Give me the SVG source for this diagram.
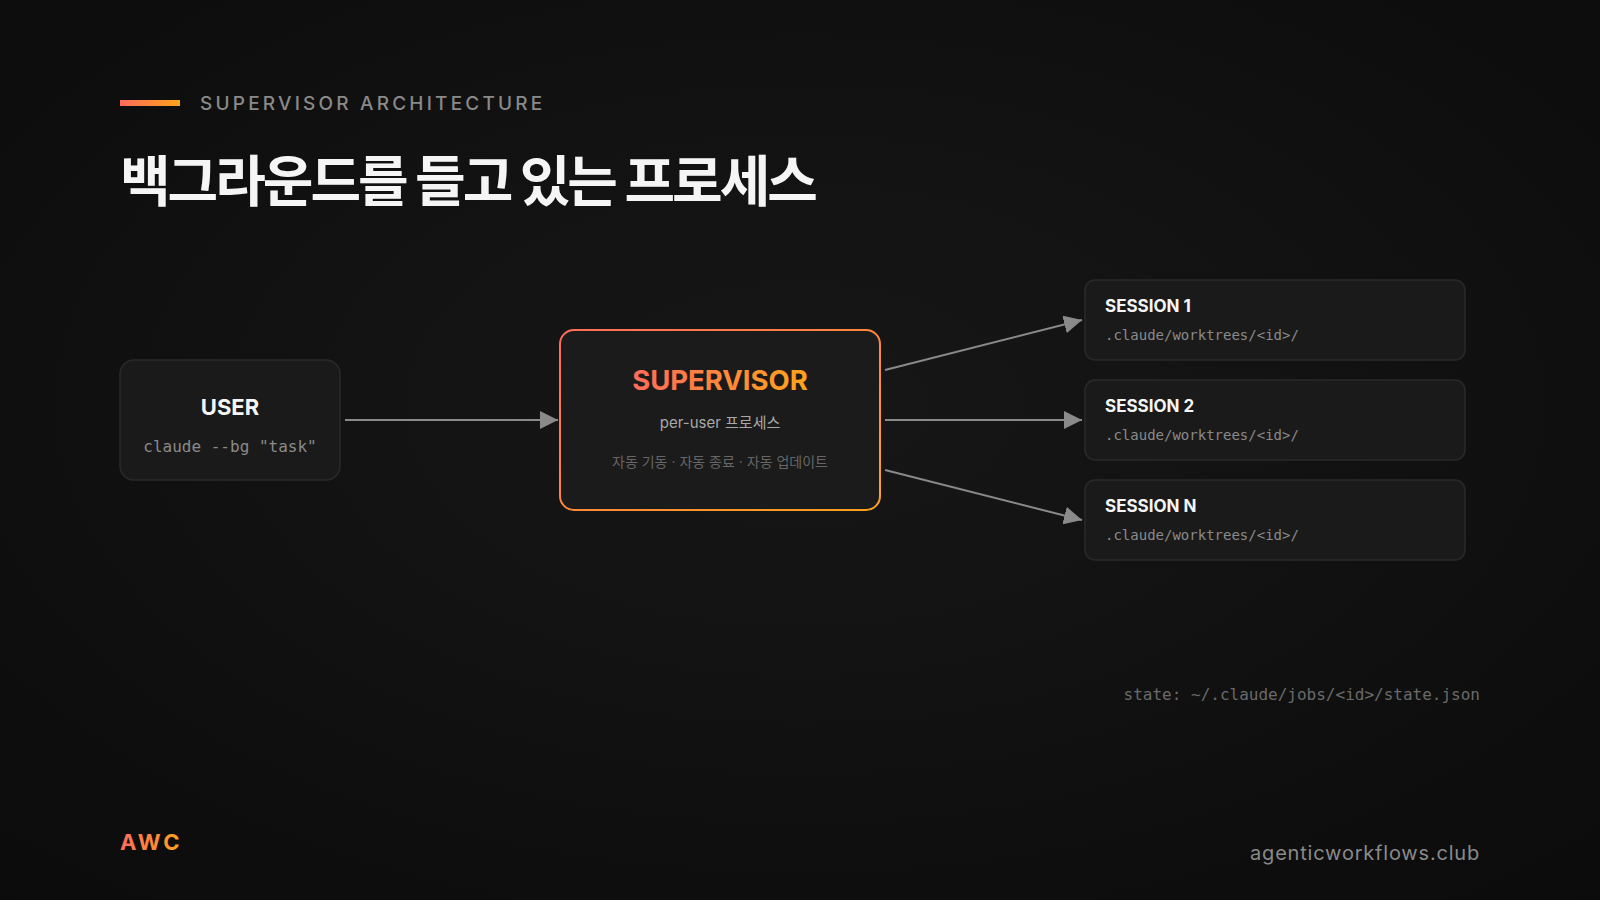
<svg xmlns="http://www.w3.org/2000/svg" width="1600" height="900" viewBox="0 0 1600 900">
  <defs>
    <radialGradient id="bg" cx="50%" cy="45%" r="75%">
      <stop offset="0" stop-color="#171717"/>
      <stop offset="1" stop-color="#0b0b0b"/>
    </radialGradient>
    <linearGradient id="accent" x1="0" y1="0" x2="1" y2="1">
      <stop offset="0" stop-color="#ff6b5b"/>
      <stop offset="1" stop-color="#ffa31a"/>
    </linearGradient>
    <linearGradient id="accentH" x1="0" y1="0" x2="1" y2="0">
      <stop offset="0" stop-color="#ff6b5b"/>
      <stop offset="1" stop-color="#ffa31a"/>
    </linearGradient>
    <marker id="arrowL" viewBox="0 0 10 10" refX="10" refY="5" markerWidth="18" markerHeight="18" markerUnits="userSpaceOnUse" orient="auto">
      <path d="M0,0 L10,5 L0,10 Z" fill="#8a8a8a"/>
    </marker>
  </defs>
  <style>
    .card { fill: #1a1a1a; stroke: #2a2a2a; stroke-width: 1.5; }
    .sans { font-family: Inter, "Noto Sans CJK KR", "Noto Sans", sans-serif; }
    .mono { font-family: "DejaVu Sans Mono", "Liberation Mono", monospace; }
    .node-title { font-family: Inter, "Noto Sans CJK KR", sans-serif; font-weight: 700; fill: #f5f5f5; }
    .path { font-family: "DejaVu Sans Mono", "Liberation Mono", monospace; font-size: 14px; fill: #8a8a8a; }
    .conn { stroke: #8a8a8a; stroke-width: 2; fill: none; }
  </style>

  <rect x="0" y="0" width="1600" height="900" fill="url(#bg)"/>

  <!-- header -->
  <rect x="120" y="100" width="60" height="6" fill="url(#accentH)"/>
  <text x="200" y="110" class="sans" font-size="19" font-weight="500" letter-spacing="3.2" fill="#8a8a8a">SUPERVISOR ARCHITECTURE</text>
  <text x="120" y="201" font-family="'Noto Sans CJK KR', sans-serif" font-size="55" font-weight="700" letter-spacing="-3" fill="#f5f5f5">백그라운드를 들고 있는 프로세스</text>

  <!-- connectors -->
  <g id="connectors">
    <line x1="345" y1="420" x2="558" y2="420" class="conn" marker-end="url(#arrowL)"/>
    <line x1="885" y1="370" x2="1082" y2="320" class="conn" marker-end="url(#arrowL)"/>
    <line x1="885" y1="420" x2="1082" y2="420" class="conn" marker-end="url(#arrowL)"/>
    <line x1="885" y1="470" x2="1082" y2="520" class="conn" marker-end="url(#arrowL)"/>
  </g>

  <g id="user">
    <rect x="120" y="360" width="220" height="120" rx="14" class="card"/>
    <text x="230" y="415" text-anchor="middle" class="node-title" font-size="22">USER</text>
    <text x="230" y="452" text-anchor="middle" class="mono" font-size="16" fill="#8a8a8a">claude --bg "task"</text>
  </g>

  <g id="supervisor">
    <rect x="560" y="330" width="320" height="180" rx="14" fill="#1b1b1b" stroke="url(#accent)" stroke-width="2"/>
    <text x="720" y="390" text-anchor="middle" class="sans" font-size="27.5" font-weight="700" fill="url(#accentH)">SUPERVISOR</text>
    <text x="720" y="428" text-anchor="middle" class="sans" font-size="15" fill="#a8a8a8">per-user 프로세스</text>
    <text x="720" y="467" text-anchor="middle" class="sans" font-size="14" fill="#666666">자동 기동 · 자동 종료 · 자동 업데이트</text>
  </g>

  <g id="session1">
    <rect x="1085" y="280" width="380" height="80" rx="10" class="card"/>
    <text x="1105" y="312" class="node-title" font-size="17">SESSION 1</text>
    <text x="1105" y="340" class="path">.claude/worktrees/&lt;id&gt;/</text>
  </g>
  <g id="session2">
    <rect x="1085" y="380" width="380" height="80" rx="10" class="card"/>
    <text x="1105" y="412" class="node-title" font-size="17">SESSION 2</text>
    <text x="1105" y="440" class="path">.claude/worktrees/&lt;id&gt;/</text>
  </g>
  <g id="sessionN">
    <rect x="1085" y="480" width="380" height="80" rx="10" class="card"/>
    <text x="1105" y="512" class="node-title" font-size="17">SESSION N</text>
    <text x="1105" y="540" class="path">.claude/worktrees/&lt;id&gt;/</text>
  </g>

  <text x="1480" y="700" text-anchor="end" class="mono" font-size="16" fill="#6a6a6a">state: ~/.claude/jobs/&lt;id&gt;/state.json</text>

  <!-- footer -->
  <text x="120" y="850" class="sans" font-size="22" font-weight="700" letter-spacing="3" fill="url(#accentH)">AWC</text>
  <text x="1480" y="860" text-anchor="end" class="sans" font-size="20" letter-spacing="0.8" fill="#8a8a8a">agenticworkflows.club</text>
</svg>
